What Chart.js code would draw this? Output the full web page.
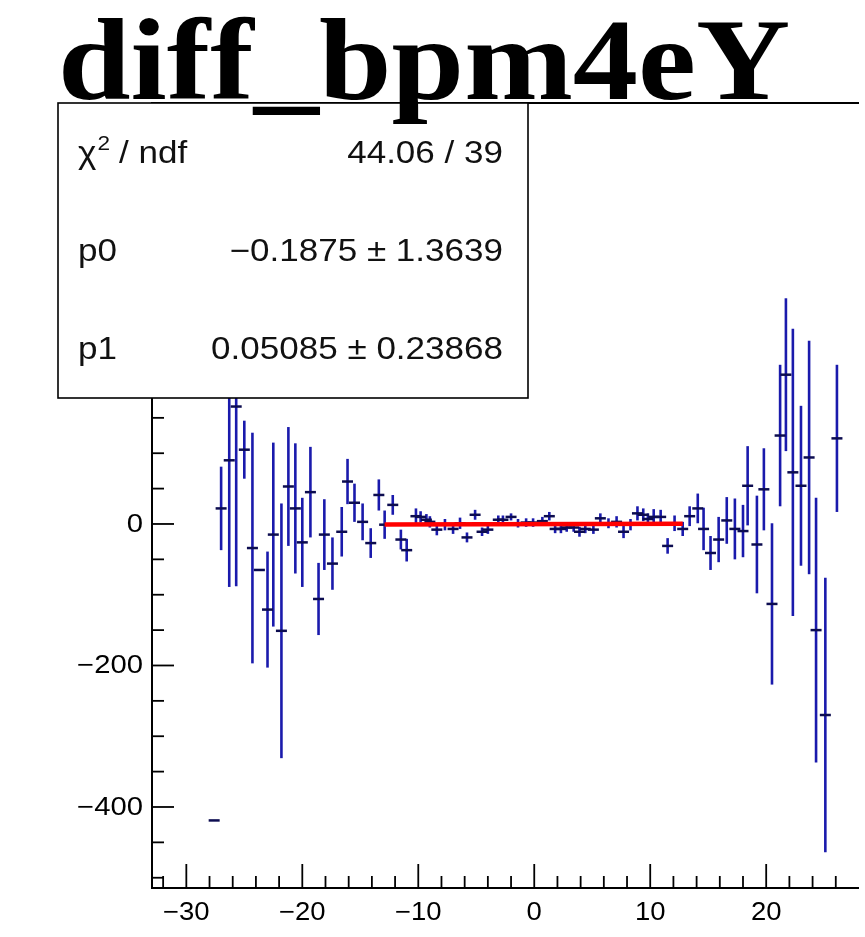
<!DOCTYPE html>
<html>
<head>
<meta charset="utf-8">
<script src="https://cdn.jsdelivr.net/npm/chart.js@4.4.1/dist/chart.umd.min.js"></script>
<style>
  html, body { margin: 0; padding: 0; background: #fff; }
  #wrap { width: 865px; height: 937px; }
</style>
</head>
<body>
<div id="wrap"><canvas id="plot" width="865" height="937"></canvas></div>
<script>
// diff_bpm4eY - values

const xVals = [
  -27.6, -27.0, -26.3, -25.7, -25.0, -24.3, -23.7, -23.0, -22.5, -21.8,
  -21.2, -20.6, -20.0, -19.3, -18.6, -18.1, -17.4, -16.6, -16.1, -15.5,
  -14.8, -14.1, -13.4, -12.9, -12.2, -11.5, -11.0, -10.2, -9.8, -9.3,
  -9.0, -8.4, -7.7, -7.0, -6.4, -5.8, -5.1, -4.5, -4.0, -3.1,
  -2.7, -2.0, -1.4, -0.7, -0.1, 0.7, 1.3, 1.8, 2.3, 2.8,
  3.4, 3.9, 4.4, 5.1, 5.7, 6.4, 7.1, 7.7, 8.3, 8.9,
  9.4, 9.8, 10.3, 10.9, 11.5, 12.1, 12.8, 13.4, 14.1, 14.6,
  15.2, 15.9, 16.6, 17.3, 18.0, 18.4, 19.2, 19.8, 20.5, 21.2,
  21.7, 22.3, 23.0, 23.7, 24.3, 25.1, 26.1
];
const yVals = [
  -419, 22, 90, 166, 105, -34, -65, -121, -15, -151,
  53, 22, -26, 45, -106, -15, -56, -11, 60, 30,
  3, -27, 41, -1, 27, -22, -37, 11, 10, 6,
  3, -8, -1, -7, 1, -19, 13, -11, -8, 6,
  6, 10, 1, 2, 2, 4, 11, -7, -7, -5,
  -5, -11, -7, -8, 8, 1, 3, -11, -1, 15,
  13, 7, 10, 10, -31, 1, -7, 11, 22, -7,
  -41, -22, 5, -7, -10, 54, -29, 49, -113, 125,
  211, 73, 54, 94, -150, -270, 121
];
const yErrs = [
  0, 59, 179, 254, 41, 163, 0, 82, 130, 180,
  84, 92, 63, 64, 51, 50, 37, 35, 32, 27,
  26, 21, 22, 20, 14, 14, 16, 11, 8, 8,
  8, 8, 8, 7, 8, 7, 7, 6, 6, 6,
  6, 5, 6, 6, 6, 6, 6, 6, 6, 6,
  6, 7, 6, 6, 7, 7, 8, 9, 8, 10,
  9, 8, 11, 10, 11, 11, 10, 14, 21, 30,
  24, 32, 33, 43, 37, 56, 69, 58, 114, 100,
  108, 203, 113, 165, 187, 194, 104
];

const xTicks = [-30, -20, -10, 0, 10, 20];
const yTicks = [-400, -200, 0, 200, 400];

// fit result shown in the stats box
const fitP0 = -0.1875;
const fitP1 = 0.05085;
const fitRange = [-12.9, 12.8];

const statsLabels = ['/ ndf', 'p0', 'p1'];
const statsValues = ['44.06 / 39', '\u22120.1875 \u00b1 1.3639', '0.05085 \u00b1 0.23868'];

const title = 'diff_bpm4eY';

const SANS = '"Liberation Sans", Arial, sans-serif';

function minusFmt(v) {
    return v < 0 ? '\u2212' + Math.abs(v) : String(v);
}

// ROOT's text comes out a bit wider than the fonts here, so stretch it
function wideText(ctx, text, x, y, sx, align) {
    ctx.save();
    ctx.translate(x, y);
    ctx.scale(sx, 1);
    ctx.textAlign = align;
    ctx.fillText(text, 0, 0);
    ctx.restore();
}

const pts = xVals.map((x, i) => ({ x: x, y: yVals[i] }));
const fitPts = fitRange.map(x => ({ x: x, y: fitP0 + fitP1 * x }));

// vertical error bars, drawn under the markers
const errorBars = {
    id: 'errorBars',
    beforeDatasetsDraw(chart) {
        const { ctx, chartArea, scales: { x, y } } = chart;
        ctx.save();
        ctx.beginPath();
        ctx.rect(chartArea.left, chartArea.top, chartArea.right - chartArea.left, chartArea.bottom - chartArea.top);
        ctx.clip();
        ctx.strokeStyle = '#1a1aac';
        ctx.lineWidth = 2.6;
        xVals.forEach((xv, i) => {
            if (!yErrs[i]) return;
            const px = x.getPixelForValue(xv);
            ctx.beginPath();
            ctx.moveTo(px, y.getPixelForValue(yVals[i] + yErrs[i]));
            ctx.lineTo(px, y.getPixelForValue(yVals[i] - yErrs[i]));
            ctx.stroke();
        });
        ctx.restore();
    }
};

// ROOT style frame, inward ticks, labels, stats box and title
const decor = {
    id: 'decor',
    afterDraw(chart) {
        const { ctx, chartArea: a, scales: { x, y } } = chart;
        ctx.save();
        ctx.strokeStyle = '#000';
        ctx.lineWidth = 2;
        ctx.beginPath();
        ctx.moveTo(a.right + 2, a.top);
        ctx.lineTo(a.left, a.top);
        ctx.lineTo(a.left, a.bottom);
        ctx.lineTo(a.right + 2, a.bottom);
        ctx.stroke();

        ctx.lineWidth = 1.8;
        for (let v = -32; v <= 28; v += 2) {
            const px = x.getPixelForValue(v);
            if (px < a.left || px > a.right) continue;
            const len = (v % 10 === 0) ? 24 : 12;
            ctx.beginPath();
            ctx.moveTo(px, a.bottom);
            ctx.lineTo(px, a.bottom - len);
            ctx.stroke();
        }
        for (let v = -500; v <= 550; v += 50) {
            const py = y.getPixelForValue(v);
            if (py < a.top || py > a.bottom) continue;
            const len = (v % 200 === 0) ? 22 : 12;
            ctx.beginPath();
            ctx.moveTo(a.left, py);
            ctx.lineTo(a.left + len, py);
            ctx.stroke();
        }

        // tick labels
        ctx.fillStyle = '#000';
        ctx.textBaseline = 'middle';
        ctx.font = '25px ' + SANS;
        xTicks.forEach(v => {
            wideText(ctx, minusFmt(v), x.getPixelForValue(v), a.bottom + 25, 1.1, 'center');
        });
        yTicks.forEach(v => {
            const py = y.getPixelForValue(v);
            if (py < a.top || py > a.bottom) return;
            wideText(ctx, minusFmt(v), a.left - 9, py + 1, 1.17, 'right');
        });

        // stats box
        const bx = 58, by = a.top, bw = 470, bh = 295;
        ctx.fillStyle = '#fff';
        ctx.fillRect(bx, by, bw, bh);
        ctx.lineWidth = 1.6;
        ctx.strokeRect(bx, by, bw, bh);
        ctx.fillStyle = '#111';
        const rowH = bh / 3;
        const sx = 1.13;
        statsLabels.forEach((lab, i) => {
            const cy = by + rowH * (i + 0.5) + 2;
            ctx.font = '31px ' + SANS;
            if (i === 0) {
                wideText(ctx, '\u03c7', 78, cy, sx, 'left');
                const w = ctx.measureText('\u03c7').width * sx;
                ctx.font = '20px ' + SANS;
                wideText(ctx, '2', 78 + w + 1, cy - 10, sx, 'left');
                ctx.font = '31px ' + SANS;
                wideText(ctx, ' ' + lab, 78 + w + 13, cy, sx, 'left');
            } else {
                wideText(ctx, lab, 78, cy, sx, 'left');
            }
            wideText(ctx, statsValues[i], 503, cy, sx, 'right');
        });

        // title
        ctx.fillStyle = '#000';
        ctx.font = 'bold 116px "Liberation Serif", "Times New Roman", serif';
        ctx.textBaseline = 'alphabetic';
        wideText(ctx, title, 58, 99, 1.125, 'left');
        ctx.restore();
    }
};

function renderChart() {
    const ctx = document.getElementById('plot').getContext('2d');
    new Chart(ctx, {
        type: 'scatter',
        data: {
            datasets: [{
                label: 'fit',
                type: 'line',
                data: fitPts,
                borderColor: '#ff0000',
                borderWidth: 4.5,
                pointRadius: 0,
                fill: false,
                order: 0
            }, {
                label: 'diff_bpm4eY',
                data: pts,
                pointStyle: 'line',
                pointRadius: 5.5,
                borderColor: '#0c0c50',
                backgroundColor: '#0c0c50',
                pointBorderWidth: 2.5,
                order: 1
            }]
        },
        options: {
            responsive: false,
            animation: false,
            devicePixelRatio: 1,
            layout: { padding: { top: 103, left: 0, right: 0, bottom: 0 } },
            scales: {
                x: {
                    type: 'linear',
                    min: -32.96,
                    max: 27.83,
                    afterBuildTicks: s => { s.ticks = xTicks.map(v => ({ value: v })); },
                    afterFit: s => { s.height = 49; },
                    grid: { display: false, drawTicks: false },
                    border: { display: false },
                    ticks: { display: false }
                },
                y: {
                    type: 'linear',
                    min: -514.5,
                    max: 595,
                    afterBuildTicks: s => { s.ticks = yTicks.map(v => ({ value: v })); },
                    afterFit: s => { s.width = 152; },
                    grid: { display: false, drawTicks: false },
                    border: { display: false },
                    ticks: { display: false }
                }
            },
            plugins: {
                legend: { display: false },
                tooltip: { enabled: false }
            }
        },
        plugins: [errorBars, decor]
    });
}

document.addEventListener('DOMContentLoaded', renderChart);
</script>
</body>
</html>
